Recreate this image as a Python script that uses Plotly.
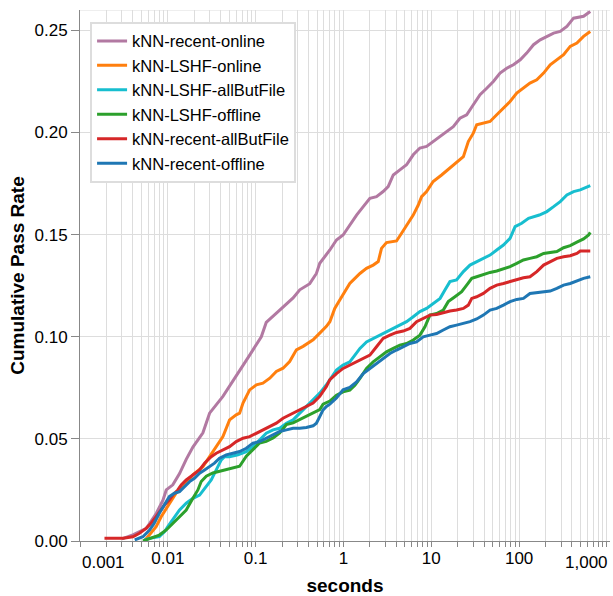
import plotly.graph_objects as go

# ---- data (seconds, cumulative pass rate) ----
recent_online_x = [0.0030, 0.0040, 0.0057, 0.0074, 0.0088, 0.0096, 0.0114, 0.0136, 0.0162, 0.0193, 0.0251, 0.0299, 0.0424, 0.0601, 0.0855, 0.116, 0.132, 0.188, 0.267, 0.318, 0.413, 0.492, 0.537, 0.70, 0.832, 0.99, 1.18, 1.41, 1.68, 2.0, 2.38, 2.83, 3.23, 3.69, 4.39, 5.23, 6.23, 7.42, 8.84, 10.5, 12.6, 15.0, 17.8, 21.2, 25.3, 30.1, 35.9, 42.8, 50.9, 60.7, 72.3, 86.1, 103, 122, 146, 174, 207, 247, 294, 350, 417, 542, 646]
recent_online_y = [0.0010, 0.0030, 0.0062, 0.0136, 0.0200, 0.0250, 0.0275, 0.0330, 0.0400, 0.0460, 0.0530, 0.0626, 0.0708, 0.0806, 0.0910, 0.1000, 0.1070, 0.1130, 0.1190, 0.1230, 0.1260, 0.1310, 0.1360, 0.1425, 0.1474, 0.1498, 0.1547, 0.1596, 0.1637, 0.1678, 0.1686, 0.1711, 0.1735, 0.1792, 0.1817, 0.1842, 0.1891, 0.1924, 0.1932, 0.1956, 0.1980, 0.2005, 0.2029, 0.2070, 0.2087, 0.2136, 0.2185, 0.2217, 0.2250, 0.2291, 0.2315, 0.2332, 0.2356, 0.2389, 0.2430, 0.2454, 0.2471, 0.2487, 0.2495, 0.2520, 0.2560, 0.2569, 0.2593]

lshf_online_x = [0.0054, 0.0057, 0.00645, 0.00736, 0.0084, 0.0096, 0.0109, 0.0124, 0.0136, 0.0162, 0.0193, 0.0230, 0.0251, 0.0299, 0.0356, 0.0424, 0.0505, 0.0601, 0.0657, 0.0718, 0.0855, 0.102, 0.121, 0.145, 0.172, 0.205, 0.244, 0.291, 0.347, 0.451, 0.537, 0.640, 0.70, 0.796, 0.908, 1.04, 1.18, 1.35, 1.54, 1.83, 2.18, 2.49, 2.71, 3.09, 4.02, 4.59, 5.23, 6.23, 7.11, 7.76, 8.84, 10.5, 13.1, 16.3, 20.3, 23.2, 26.4, 30.1, 32.9, 39.2, 46.7, 55.6, 66.3, 78.9, 94.0, 112, 133, 159, 190, 226, 269, 321, 382, 455, 542, 646]
lshf_online_y = [0.0000, 0.0013, 0.0038, 0.0070, 0.0119, 0.0160, 0.0200, 0.0234, 0.0250, 0.0283, 0.0324, 0.0348, 0.0364, 0.0413, 0.0462, 0.0511, 0.0593, 0.0618, 0.0626, 0.0675, 0.0740, 0.0765, 0.0773, 0.0797, 0.0830, 0.0846, 0.0879, 0.0936, 0.0953, 0.0985, 0.1018, 0.1051, 0.1074, 0.1139, 0.1180, 0.1221, 0.1261, 0.1286, 0.1310, 0.1335, 0.1351, 0.1368, 0.1433, 0.1461, 0.1469, 0.1507, 0.1547, 0.1596, 0.1645, 0.1686, 0.1711, 0.1760, 0.1792, 0.1825, 0.1858, 0.1882, 0.1956, 0.1997, 0.2038, 0.2046, 0.2054, 0.2087, 0.2119, 0.2152, 0.2193, 0.2217, 0.2242, 0.2258, 0.2291, 0.2332, 0.2356, 0.2381, 0.2422, 0.2438, 0.2471, 0.2495]

lshf_allbutfile_x = [0.0054, 0.0062, 0.0080, 0.0092, 0.0100, 0.0114, 0.0136, 0.0162, 0.0193, 0.0230, 0.0262, 0.0312, 0.0356, 0.0406, 0.0443, 0.0505, 0.0628, 0.0783, 0.0933, 0.111, 0.132, 0.158, 0.188, 0.224, 0.267, 0.318, 0.378, 0.451, 0.537, 0.640, 0.832, 0.99, 1.18, 1.35, 1.54, 1.83, 2.18, 2.59, 3.09, 3.69, 4.39, 5.23, 6.23, 7.42, 8.84, 10.5, 12.6, 14.3, 16.3, 19.4, 23.2, 27.6, 32.9, 39.2, 46.7, 55.6, 66.3, 78.9, 90.0, 107, 128, 170, 207, 247, 294, 350, 417, 497, 646]
lshf_allbutfile_y = [0.0005, 0.0013, 0.0021, 0.0046, 0.0070, 0.0103, 0.0152, 0.0185, 0.0209, 0.0225, 0.0258, 0.0299, 0.0348, 0.0397, 0.0413, 0.0413, 0.0422, 0.0438, 0.0462, 0.0495, 0.0528, 0.0544, 0.0552, 0.0577, 0.0593, 0.0626, 0.0659, 0.0691, 0.0724, 0.0765, 0.0837, 0.0861, 0.0877, 0.0910, 0.0943, 0.0975, 0.0992, 0.1008, 0.1025, 0.1041, 0.1057, 0.1074, 0.1098, 0.1123, 0.1139, 0.1163, 0.1188, 0.1229, 0.1270, 0.1278, 0.1319, 0.1351, 0.1368, 0.1384, 0.1400, 0.1425, 0.1449, 0.1482, 0.1539, 0.1556, 0.1580, 0.1596, 0.1613, 0.1637, 0.1662, 0.1694, 0.1711, 0.1719, 0.1740]

lshf_offline_x = [0.0052, 0.00645, 0.0080, 0.0096, 0.0109, 0.0124, 0.0136, 0.0162, 0.0193, 0.0220, 0.0240, 0.0274, 0.0326, 0.0388, 0.0463, 0.0551, 0.0657, 0.0783, 0.0933, 0.111, 0.132, 0.158, 0.188, 0.224, 0.267, 0.318, 0.378, 0.451, 0.537, 0.586, 0.70, 0.832, 0.99, 1.18, 1.35, 1.54, 1.83, 2.18, 2.59, 3.09, 3.69, 4.39, 5.23, 6.23, 7.42, 8.47, 9.65, 11.5, 13.7, 15.6, 18.6, 22.2, 25.3, 28.9, 32.9, 39.2, 46.7, 55.6, 66.3, 78.9, 94.0, 112, 133, 159, 190, 226, 269, 321, 382, 455, 542, 619, 646]
lshf_offline_y = [0.0000, 0.0013, 0.0029, 0.0054, 0.0078, 0.0103, 0.0119, 0.0152, 0.0209, 0.0250, 0.0291, 0.0317, 0.0333, 0.0341, 0.0350, 0.0358, 0.0366, 0.0415, 0.0448, 0.0480, 0.0488, 0.0505, 0.0529, 0.0570, 0.0578, 0.0595, 0.0611, 0.0627, 0.0644, 0.0670, 0.0685, 0.0714, 0.0730, 0.0739, 0.0763, 0.0796, 0.0845, 0.0877, 0.0902, 0.0926, 0.0943, 0.0959, 0.0967, 0.0984, 0.1008, 0.1049, 0.1106, 0.1114, 0.1131, 0.1172, 0.1196, 0.1221, 0.1253, 0.1286, 0.1294, 0.1306, 0.1315, 0.1322, 0.1332, 0.1343, 0.1359, 0.1376, 0.1384, 0.1392, 0.1408, 0.1412, 0.1417, 0.1436, 0.1446, 0.1463, 0.1479, 0.1498, 0.1511]

recent_allbutfile_x = [0.0019, 0.0031, 0.0040, 0.00475, 0.00566, 0.00645, 0.00736, 0.0084, 0.00916, 0.0104, 0.0114, 0.0130, 0.0142, 0.0162, 0.0193, 0.0230, 0.0262, 0.0312, 0.0356, 0.0424, 0.0505, 0.0601, 0.0718, 0.0855, 0.102, 0.121, 0.145, 0.172, 0.205, 0.244, 0.318, 0.378, 0.451, 0.537, 0.640, 0.70, 0.832, 0.99, 1.18, 1.41, 1.68, 2.0, 2.38, 2.83, 3.38, 4.02, 4.79, 5.71, 6.80, 8.10, 9.65, 11.5, 13.7, 16.3, 19.4, 23.2, 26.4, 28.9, 32.9, 39.2, 46.7, 55.6, 66.3, 78.9, 94.0, 112, 133, 159, 190, 226, 269, 321, 382, 455, 497, 646]
recent_allbutfile_y = [0.0013, 0.0013, 0.0021, 0.0038, 0.0062, 0.0087, 0.0119, 0.0152, 0.0176, 0.0201, 0.0225, 0.0250, 0.0274, 0.0299, 0.0324, 0.0348, 0.0381, 0.0413, 0.0430, 0.0446, 0.0462, 0.0487, 0.0503, 0.0511, 0.0528, 0.0544, 0.0560, 0.0577, 0.0601, 0.0618, 0.0642, 0.0659, 0.0675, 0.0708, 0.0757, 0.0790, 0.0820, 0.0845, 0.0861, 0.0877, 0.0894, 0.0910, 0.0951, 0.0992, 0.1008, 0.1021, 0.1028, 0.1041, 0.1074, 0.1090, 0.1106, 0.1109, 0.1119, 0.1126, 0.1131, 0.1139, 0.1155, 0.1188, 0.1196, 0.1212, 0.1237, 0.1253, 0.1261, 0.1270, 0.1281, 0.1289, 0.1294, 0.1319, 0.1351, 0.1368, 0.1384, 0.1392, 0.1397, 0.1408, 0.1420, 0.1420]

recent_offline_x = [0.0042, 0.0052, 0.0062, 0.0070, 0.0080, 0.0092, 0.0104, 0.0119, 0.0136, 0.0155, 0.0177, 0.0201, 0.0230, 0.0262, 0.0299, 0.0340, 0.0388, 0.0463, 0.0551, 0.0657, 0.0783, 0.0933, 0.111, 0.132, 0.158, 0.188, 0.224, 0.267, 0.318, 0.378, 0.451, 0.492, 0.537, 0.586, 0.640, 0.70, 0.832, 0.99, 1.18, 1.41, 1.68, 2.0, 2.38, 2.83, 3.38, 4.02, 4.79, 5.71, 6.80, 8.10, 9.65, 11.5, 13.7, 16.3, 19.4, 23.2, 27.6, 32.9, 39.2, 46.7, 55.6, 66.3, 78.9, 94.0, 112, 133, 159, 190, 226, 269, 321, 382, 455, 542, 646]
recent_offline_y = [0.0005, 0.0021, 0.0054, 0.0087, 0.0136, 0.0176, 0.0217, 0.0234, 0.0242, 0.0266, 0.0291, 0.0307, 0.0332, 0.0348, 0.0364, 0.0381, 0.0405, 0.0422, 0.0430, 0.0438, 0.0454, 0.0479, 0.0487, 0.0503, 0.0520, 0.0536, 0.0544, 0.0552, 0.0552, 0.0556, 0.0564, 0.0577, 0.0609, 0.0642, 0.0659, 0.0670, 0.0700, 0.0740, 0.0752, 0.0779, 0.0820, 0.0845, 0.0869, 0.0894, 0.0918, 0.0935, 0.0951, 0.0967, 0.0975, 0.1000, 0.1008, 0.1016, 0.1033, 0.1049, 0.1057, 0.1065, 0.1074, 0.1087, 0.1106, 0.1131, 0.1139, 0.1155, 0.1172, 0.1183, 0.1188, 0.1212, 0.1216, 0.1217, 0.1224, 0.1237, 0.1253, 0.1261, 0.1273, 0.1286, 0.1294]

series_names = ["kNN-recent-online", "kNN-LSHF-online", "kNN-LSHF-allButFile",
                "kNN-LSHF-offline", "kNN-recent-allButFile", "kNN-recent-offline"]
series_x = [recent_online_x, lshf_online_x, lshf_allbutfile_x, lshf_offline_x, recent_allbutfile_x, recent_offline_x]
series_y = [recent_online_y, lshf_online_y, lshf_allbutfile_y, lshf_offline_y, recent_allbutfile_y, recent_offline_y]
series_colors = ["#b279a2", "#ff7f0e", "#17becf", "#2ca02c", "#d62728", "#1f77b4"]

decades = [0.001, 0.01, 0.1, 1, 10, 100, 1000]
decade_labels = ["0.001", "0.01", "0.1", "1", "10", "100", "1,000"]
y_ticks = [0, 0.05, 0.10, 0.15, 0.20, 0.25]

FONT = "Liberation Sans, Arial, Helvetica, sans-serif"

fig = go.Figure()
for name, xs, ys, col in zip(series_names, series_x, series_y, series_colors):
    fig.add_trace(go.Scatter(x=xs, y=ys, mode="lines", name=name,
                             line=dict(color=col, width=3)))

# tick positions for all 1..9 multiples
tickvals, ticktext = [], []
for i, d in enumerate(decades):
    for m in range(1, 10):
        v = d * m
        if v > 1100:
            break
        tickvals.append(v)
        if m == 1 and 0 < i < len(decades) - 1:
            ticktext.append(decade_labels[i])
        else:
            ticktext.append("")

fig.update_layout(
    width=613, height=596,
    margin=dict(l=80, r=3, t=10, b=55),
    paper_bgcolor="white", plot_bgcolor="white",
    font=dict(family=FONT, color="#000"),
    legend=dict(x=0.019, y=0.978, xanchor="left", yanchor="top",
                bgcolor="white", bordercolor="#dddddd", borderwidth=2,
                font=dict(size=16.5, family=FONT), itemwidth=30,
                tracegroupgap=0),
    showlegend=True,
)

fig.update_xaxes(
    type="log", range=[-3, 3.035], automargin=False,
    tickvals=tickvals, ticktext=ticktext,
    ticks="outside", ticklen=5, tickcolor="#888888",
    ticklabelstandoff=-3,
    showline=True, linecolor="#888888", linewidth=1,
    showgrid=True, gridcolor="#dddddd", gridwidth=1,
    zeroline=False, tickfont=dict(size=17),
    title=dict(text="<b>seconds</b>", font=dict(size=19), standoff=14),
)
fig.update_yaxes(
    range=[0, 0.26], tickvals=y_ticks, tickformat=".2f", automargin=False,
    ticks="outside", ticklen=8, tickcolor="#888888",
    showline=True, linecolor="#888888", linewidth=1,
    showgrid=True, gridcolor="#dddddd", gridwidth=1,
    zeroline=False, tickfont=dict(size=17),
    title=dict(text="<b>Cumulative Pass Rate</b>", font=dict(size=19), standoff=4),
)

# top border line
fig.add_shape(type="line", xref="paper", yref="y", x0=0, x1=1, y0=0.26, y1=0.26,
              line=dict(color="#dddddd", width=1), layer="below")

# flush first / last decade labels
fig.add_annotation(x=-3, xref="x", y=0, yref="paper", text=decade_labels[0],
                   showarrow=False, xanchor="left", yanchor="middle", yshift=-21,
                   font=dict(size=17, family=FONT, color="#000"))
fig.add_annotation(x=1, xref="paper", y=0, yref="paper", text=decade_labels[-1],
                   showarrow=False, xanchor="right", yanchor="middle", yshift=-21,
                   font=dict(size=17, family=FONT, color="#000"))

fig.write_html("out.html", config={"displayModeBar": False},
               post_script="document.body.style.margin='0px';")
